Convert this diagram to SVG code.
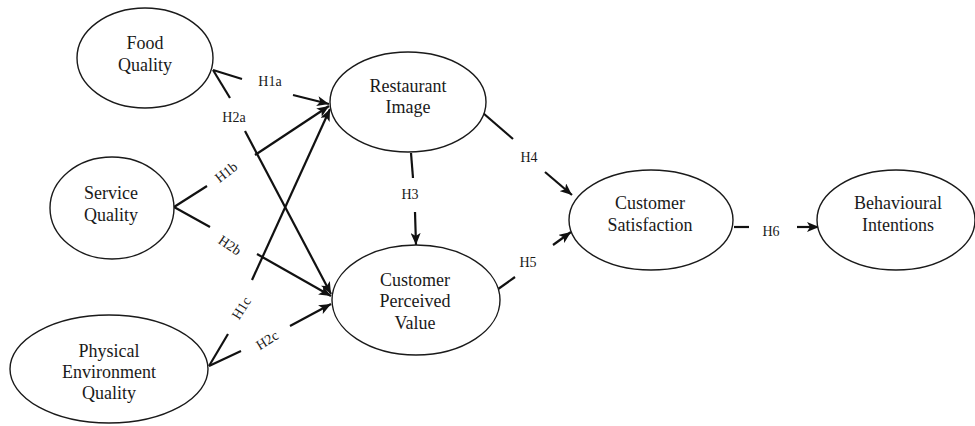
<svg xmlns="http://www.w3.org/2000/svg" width="975" height="426" viewBox="0 0 975 426">
<style>
.n ellipse{fill:#fff;stroke:#1a1a1a;stroke-width:1.4}
.n text{font-family:"Liberation Serif","Times New Roman",serif;font-size:18px;fill:#1a1a1a;text-anchor:middle}
.c line{stroke:#111;stroke-width:2.2;fill:none}
.c line.a{marker-end:url(#ah)}
.lb text{font-family:"Liberation Serif","Times New Roman",serif;font-size:14px;fill:#1a1a1a;text-anchor:middle}
</style>
<defs>
<marker id="ah" markerUnits="userSpaceOnUse" markerWidth="13" markerHeight="10" refX="12" refY="5" orient="auto">
<path d="M0,0 L12,5 L0,10 L3,5 z" fill="#111"/>
</marker>
</defs>
<rect width="975" height="426" fill="#fff"/>
<g class="c" id="connectors">
<line x1="213" y1="70" x2="242" y2="79"/><line class="a" x1="293" y1="95" x2="329" y2="104"/>
<line x1="213" y1="70" x2="230" y2="98"/><line class="a" x1="245" y1="131" x2="331" y2="294"/>
<line x1="174" y1="207" x2="207" y2="186"/><line class="a" x1="255" y1="155" x2="329" y2="106"/>
<line x1="174" y1="207" x2="210" y2="227"/><line class="a" x1="257" y1="254" x2="331" y2="296"/>
<line x1="209" y1="366" x2="228" y2="334"/><line class="a" x1="252" y1="280" x2="330" y2="109"/>
<line x1="209" y1="366" x2="241" y2="351"/><line class="a" x1="290" y1="326" x2="331" y2="304"/>
<line x1="411" y1="153" x2="413" y2="178"/><line class="a" x1="415" y1="212" x2="416" y2="245"/>
<line x1="483" y1="113" x2="513" y2="139"/><line class="a" x1="545" y1="172" x2="572" y2="195"/>
<line x1="494" y1="292" x2="515" y2="277"/><line class="a" x1="553" y1="245" x2="571" y2="232"/>
<line x1="734" y1="227" x2="749" y2="227"/><line class="a" x1="797" y1="227" x2="819" y2="227"/>
</g>
<g class="lb" id="labels">
<text x="270" y="86">H1a</text>
<text x="234" y="122">H2a</text>
<text transform="translate(226,172) rotate(-38)" x="0" y="5">H1b</text>
<text transform="translate(230,245) rotate(34)" x="0" y="5">H2b</text>
<text transform="translate(241,308) rotate(-58)" x="0" y="5">H1c</text>
<text transform="translate(267,340) rotate(-32)" x="0" y="5">H2c</text>
<text x="410" y="199">H3</text>
<text x="529" y="162">H4</text>
<text x="528" y="267">H5</text>
<text x="771" y="236">H6</text>
</g>
<g class="n" id="food-quality"><ellipse cx="145" cy="58" rx="68" ry="50"/><text x="145" y="49">Food</text><text x="145" y="71">Quality</text></g>
<g class="n" id="service-quality"><ellipse cx="112" cy="208" rx="62" ry="51"/><text x="111" y="199">Service</text><text x="111" y="221">Quality</text></g>
<g class="n" id="physical-environment-quality"><ellipse cx="109" cy="369" rx="99" ry="54"/><text x="109" y="357">Physical</text><text x="109" y="378">Environment</text><text x="109" y="399">Quality</text></g>
<g class="n" id="restaurant-image"><ellipse cx="408" cy="102" rx="78" ry="50"/><text x="408" y="92">Restaurant</text><text x="408" y="113">Image</text></g>
<g class="n" id="customer-perceived-value"><ellipse cx="416" cy="300" rx="84" ry="55"/><text x="415" y="286">Customer</text><text x="415" y="307">Perceived</text><text x="415" y="329">Value</text></g>
<g class="n" id="customer-satisfaction"><ellipse cx="651" cy="220" rx="82" ry="50"/><text x="650" y="209">Customer</text><text x="650" y="231">Satisfaction</text></g>
<g class="n" id="behavioural-intentions"><ellipse cx="896" cy="220" rx="79" ry="50"/><text x="898" y="209">Behavioural</text><text x="898" y="231">Intentions</text></g>
</svg>
